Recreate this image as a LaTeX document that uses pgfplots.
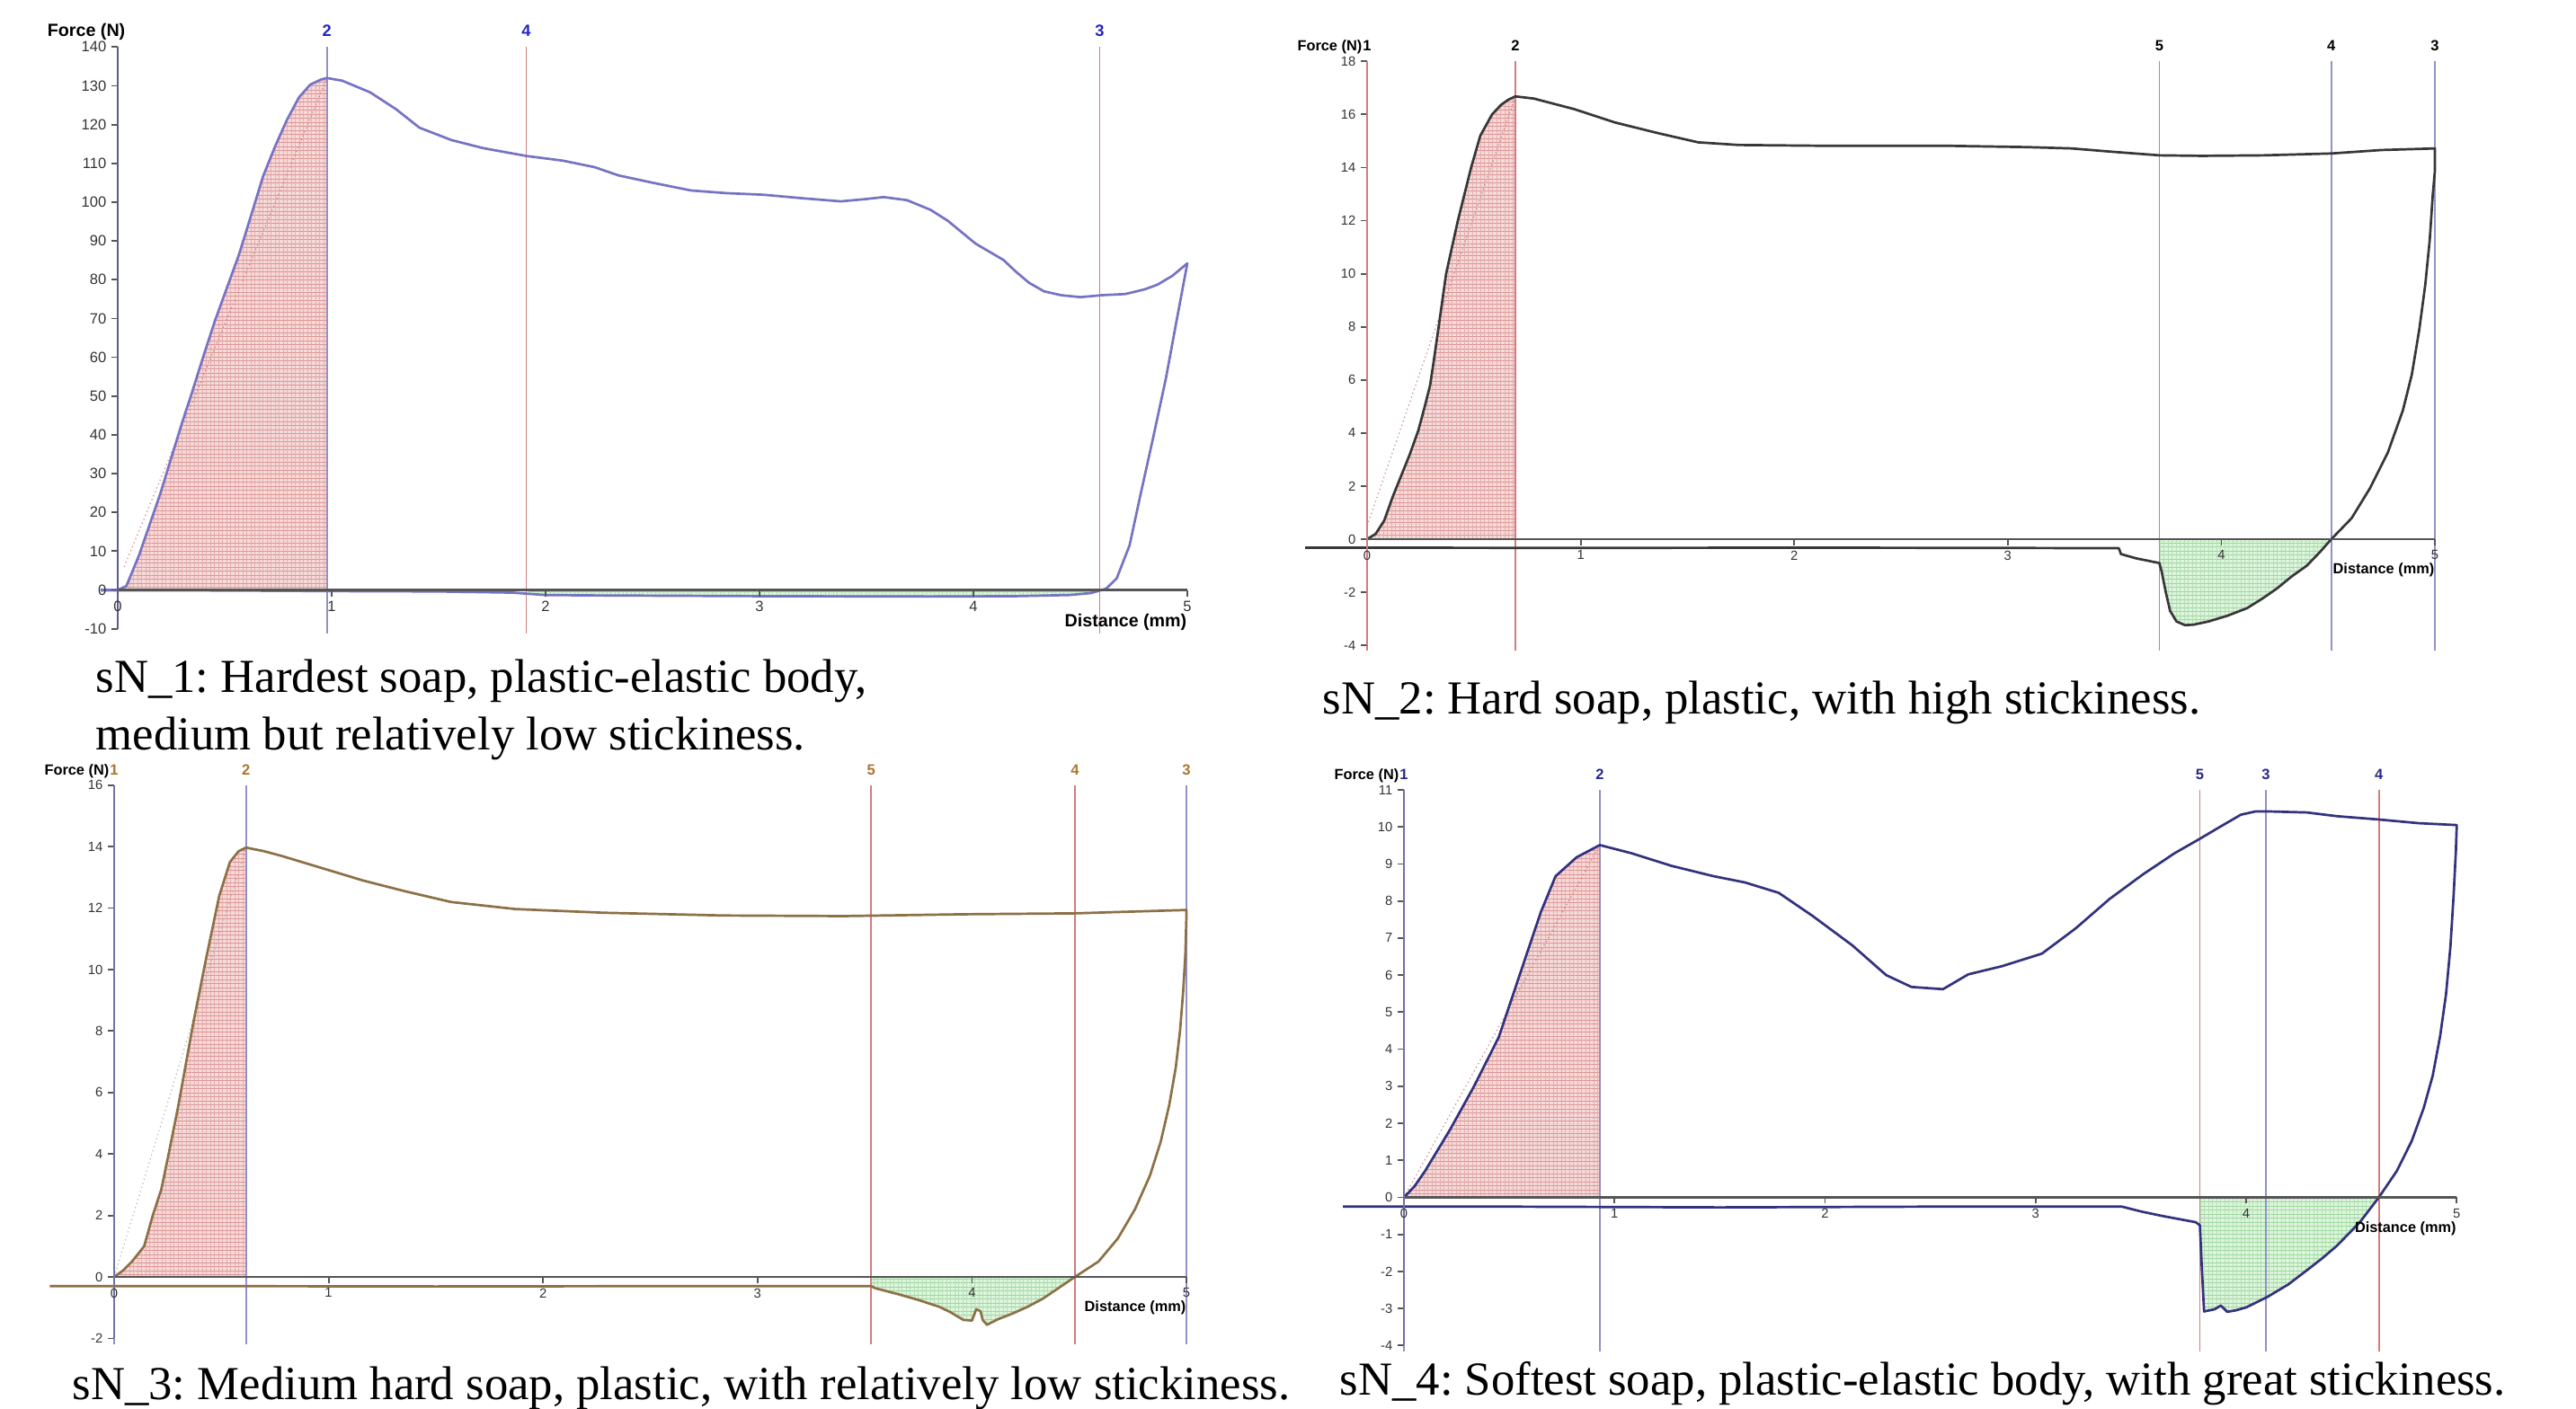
\documentclass[border=0pt]{standalone}
\usepackage{fontspec}
\setmainfont{Liberation Serif}
\newfontfamily\arial{Liberation Sans}
\usepackage{pgfplots}
\pgfplotsset{compat=1.18}
\usetikzlibrary{patterns.meta}
\frenchspacing

\definecolor{axgray}{RGB}{85,85,85}
\definecolor{lavc}{RGB}{118,115,195}
\definecolor{darkc}{RGB}{55,55,55}
\definecolor{olivec}{RGB}{140,112,70}
\definecolor{navyc}{RGB}{50,50,125}
\definecolor{mred}{RGB}{208,125,125}
\definecolor{mblue}{RGB}{145,145,200}
\definecolor{pinkbg}{RGB}{245,218,218}
\definecolor{pinkln}{RGB}{220,140,140}
\definecolor{greenbg}{RGB}{222,244,222}
\definecolor{greenln}{RGB}{150,212,150}
\definecolor{lab1}{RGB}{35,35,200}
\definecolor{lab3}{RGB}{175,115,45}
\definecolor{lab4}{RGB}{40,40,140}

\newcommand\tfa{\arial\fontsize{4.7}{5}\selectfont}
\newcommand\tfb{\arial\fontsize{4.2}{5}\selectfont}
\newcommand\lfa{\arial\bfseries\fontsize{5.6}{6}\selectfont}
\newcommand\lfb{\arial\bfseries\fontsize{4.65}{5}\selectfont}
\newcommand\mfa{\arial\bfseries\fontsize{5.2}{6}\selectfont}
\newcommand\mfb{\arial\bfseries\fontsize{4.7}{5}\selectfont}

\pgfplotsset{
  tex/.style={
    scale only axis, anchor=south west,
    xmin=0, xmax=5, xtick={0,1,2,3,4,5},
    axis x line=middle, axis y line=middle,
    axis on top, clip=false,
    hide obscured x ticks=false, hide obscured y ticks=false,
    x axis line style={-, draw=axgray, line width=0.28mm},
    y axis line style={-, line width=0.28mm},
    tick style={line width=0.18mm, draw=axgray},
    major tick length=0.7mm, tick align=outside,
    ticklabel style={text=black!80, inner sep=0.5mm},
    /pgf/number format/assume math mode=true,
  },
  mk/.style={line width=0.18mm},
  curve/.style={line width=0.27mm, mark=none, line join=round},
  secant/.style={line width=0.12mm, densely dotted, draw=mred},
  pinkarea/.style={draw=none, fill=pinkbg,
    postaction={pattern={Lines[angle=0,distance=0.45mm,line width=0.1mm]}, pattern color=pinkln},
    postaction={pattern={Lines[angle=90,distance=0.45mm,line width=0.05mm]}, pattern color=pinkln!70}},
  greenarea/.style={draw=none, fill=greenbg,
    postaction={pattern={Lines[angle=0,distance=0.45mm,line width=0.1mm]}, pattern color=greenln},
    postaction={pattern={Lines[angle=90,distance=0.45mm,line width=0.05mm]}, pattern color=greenln!70}},
}

% x, line colour, label, y bottom, y top
\newcommand\mk[5]{\addplot[mk, draw=#2] coordinates {(#1,#4) (#1,#5)}
  node[pos=1, anchor=base, inner sep=0pt, yshift=1.15mm, mklab] {#3};}

\begin{document}
\begin{tikzpicture}
\path[use as bounding box] (0,0) rectangle (286.6mm,156.7mm);

% ---------------- sN_1 ----------------
\tikzset{mklab/.style={font=\mfa, text=lab1}}
\begin{axis}[tex, at={(13.1mm,86.73mm)}, width=119.0mm, height=64.74mm,
  ymin=-10, ymax=140, ytick={-10,0,10,...,140},
  ticklabel style={font=\tfa}, y axis line style={draw=navyc!80}]
\addplot[pinkarea] coordinates {(0,0) (0.04,1) (0.1,9) (0.2,25) (0.3,43) (0.343,50.2) (0.4,60.2) (0.455,69.5) (0.511,78) (0.567,86.5) (0.623,96.5) (0.679,106.6) (0.735,114.3) (0.791,121.2) (0.847,127) (0.9,130.3) (0.95,131.6) (0.978,132)} \closedcycle;
\addplot[greenarea] coordinates {(1.92,0) (1.92,-1.0) (2.0,-1.3) (2.2,-1.4) (3.0,-1.6) (3.8,-1.7) (4.2,-1.6) (4.45,-1.3) (4.55,-0.8) (4.6,0)} \closedcycle;
\mk{0.978}{mblue}{2}{-11.2}{140}
\mk{1.91}{mred}{4}{-11.2}{140}
\mk{4.59}{mred}{3}{-11.2}{140}
\addplot[secant] coordinates {(0.03,6) (0.978,132)};
\addplot[curve, draw=lavc] coordinates {(-0.08,0) (0,0) (0.04,1) (0.1,9) (0.2,25) (0.3,43) (0.343,50.2) (0.4,60.2) (0.455,69.5) (0.511,78) (0.567,86.5) (0.623,96.5) (0.679,106.6) (0.735,114.3) (0.791,121.2) (0.847,127) (0.9,130.3) (0.95,131.6) (0.978,132) (1.05,131.3) (1.18,128.3) (1.3,124) (1.41,119.2) (1.56,116) (1.71,113.9) (1.91,111.9) (2.08,110.7) (2.23,109) (2.34,106.9) (2.5,105) (2.68,103) (2.85,102.3) (3.02,101.9) (3.2,101) (3.38,100.2) (3.5,100.8) (3.58,101.3) (3.69,100.5) (3.8,98) (3.88,95.2) (4.01,89.3) (4.14,85.1) (4.2,82) (4.26,79.2) (4.33,77) (4.41,76) (4.5,75.5) (4.6,76) (4.71,76.3) (4.8,77.5) (4.86,78.7) (4.93,81) (5.0,84.2) (4.95,69.5) (4.9,54.6) (4.84,39.2) (4.78,24.3) (4.73,11.5) (4.67,3) (4.62,0.3) (4.6,0) (4.55,-0.8) (4.45,-1.3) (4.2,-1.6) (3.8,-1.7) (3.0,-1.6) (2.2,-1.4) (2.0,-1.3) (1.92,-1.0) (1.85,-0.7) (1.5,-0.4) (1.0,-0.3) (0.5,-0.15) (0,-0.1) (-0.08,-0.1)};
\node[font=\lfa, text=black, anchor=base east, inner sep=0pt, xshift=0.9mm, yshift=1.2mm] at (axis cs:0,140) {Force (N)};
\node[font=\lfa, text=black, anchor=north east, inner sep=0pt, yshift=-2.6mm] at (axis cs:5,0) {Distance (mm)};
\end{axis}

% ---------------- sN_2 ----------------
\tikzset{mklab/.style={font=\mfb, text=black}}
\begin{axis}[tex, at={(152.1mm,84.88mm)}, width=118.8mm, height=64.99mm,
  ymin=-4, ymax=18, ytick={-4,-2,...,18},
  ticklabel style={font=\tfb}, y axis line style={draw=mred}]
\addplot[pinkarea] coordinates {(0,0) (0.04,0.2) (0.08,0.7) (0.12,1.6) (0.16,2.4) (0.2,3.2) (0.24,4.1) (0.27,5) (0.295,5.8) (0.31,6.6) (0.335,8) (0.37,10) (0.425,12) (0.487,14) (0.53,15.2) (0.585,16) (0.627,16.36) (0.66,16.55) (0.694,16.68)} \closedcycle;
\addplot[greenarea] coordinates {(3.71,0) (3.71,-0.9) (3.72,-1.2) (3.74,-2.0) (3.76,-2.7) (3.79,-3.1) (3.83,-3.24) (3.87,-3.22) (3.94,-3.1) (4.03,-2.88) (4.12,-2.6) (4.19,-2.25) (4.26,-1.86) (4.33,-1.4) (4.4,-1.0) (4.46,-0.5) (4.515,0)} \closedcycle;
\mk{0}{mred}{1}{-4.2}{18}
\mk{0.694}{mred}{2}{-4.2}{18}
\mk{3.71}{mblue}{5}{-4.2}{18}
\mk{4.515}{mblue}{4}{-4.2}{18}
\mk{5.0}{mblue}{3}{-4.2}{18}
\addplot[secant] coordinates {(0,0.5) (0.694,16.68)};
\addplot[curve, draw=darkc] coordinates {(0,0) (0.04,0.2) (0.08,0.7) (0.12,1.6) (0.16,2.4) (0.2,3.2) (0.24,4.1) (0.27,5) (0.295,5.8) (0.31,6.6) (0.335,8) (0.37,10) (0.425,12) (0.487,14) (0.53,15.2) (0.585,16) (0.627,16.36) (0.66,16.55) (0.694,16.68) (0.78,16.6) (0.97,16.2) (1.16,15.7) (1.36,15.3) (1.55,14.95) (1.74,14.85) (2.13,14.82) (2.71,14.82) (3.09,14.77) (3.3,14.72) (3.48,14.6) (3.71,14.46) (3.91,14.44) (4.2,14.46) (4.515,14.53) (4.75,14.66) (5.0,14.72) (5.0,13.87) (4.99,12.97) (4.976,11.28) (4.955,9.59) (4.927,7.9) (4.892,6.2) (4.85,4.85) (4.78,3.27) (4.696,1.92) (4.61,0.79) (4.515,0) (4.46,-0.5) (4.4,-1.0) (4.33,-1.4) (4.26,-1.86) (4.19,-2.25) (4.12,-2.6) (4.03,-2.88) (3.94,-3.1) (3.87,-3.22) (3.83,-3.24) (3.79,-3.1) (3.76,-2.7) (3.74,-2.0) (3.72,-1.2) (3.71,-0.9) (3.6,-0.72) (3.53,-0.56) (3.52,-0.34) (3.0,-0.33) (2.0,-0.32) (1.0,-0.33) (0,-0.32) (-0.29,-0.32)};
\node[font=\lfb, text=black, anchor=base east, inner sep=0pt, xshift=-0.5mm, yshift=1.15mm] at (axis cs:0,18) {Force (N)};
\node[font=\lfb, text=black, anchor=north east, inner sep=0pt, yshift=-2.6mm] at (axis cs:5,0) {Distance (mm)};
\end{axis}

% ---------------- sN_3 ----------------
\tikzset{mklab/.style={font=\mfb, text=lab3}}
\begin{axis}[tex, at={(12.7mm,7.76mm)}, width=119.3mm, height=61.56mm,
  ymin=-2, ymax=16, ytick={-2,0,...,16},
  ticklabel style={font=\tfb}, y axis line style={draw=mblue!80!black}]
\addplot[pinkarea] coordinates {(0,0) (0.04,0.2) (0.083,0.5) (0.14,1) (0.18,2) (0.22,2.85) (0.26,4.2) (0.3,5.6) (0.37,8.3) (0.43,10.4) (0.49,12.4) (0.54,13.5) (0.58,13.85) (0.615,13.97)} \closedcycle;
\addplot[greenarea] coordinates {(3.53,0) (3.53,-0.3) (3.55,-0.37) (3.66,-0.57) (3.75,-0.75) (3.85,-0.98) (3.9,-1.15) (3.96,-1.4) (4.0,-1.42) (4.02,-1.05) (4.04,-1.12) (4.05,-1.4) (4.07,-1.56) (4.12,-1.38) (4.19,-1.19) (4.26,-0.97) (4.33,-0.71) (4.4,-0.38) (4.48,0)} \closedcycle;
\mk{0}{mblue}{1}{-2.2}{16}
\mk{0.615}{mblue}{2}{-2.2}{16}
\mk{3.53}{mred}{5}{-2.2}{16}
\mk{4.48}{mred}{4}{-2.2}{16}
\mk{5.0}{mblue}{3}{-2.2}{16}
\addplot[secant, draw=gray!60] coordinates {(0,0) (0.615,13.97)};
\addplot[curve, draw=olivec] coordinates {(0,0) (0.04,0.2) (0.083,0.5) (0.14,1) (0.18,2) (0.22,2.85) (0.26,4.2) (0.3,5.6) (0.37,8.3) (0.43,10.4) (0.49,12.4) (0.54,13.5) (0.58,13.85) (0.615,13.97) (0.7,13.85) (0.78,13.7) (0.97,13.3) (1.16,12.9) (1.35,12.56) (1.57,12.2) (1.87,11.97) (2.28,11.85) (2.84,11.76) (3.4,11.74) (3.96,11.8) (4.48,11.83) (5.0,11.94) (5.0,11.74) (4.995,10.5) (4.985,9.3) (4.97,8.0) (4.95,6.8) (4.92,5.6) (4.88,4.4) (4.83,3.3) (4.76,2.2) (4.68,1.25) (4.59,0.5) (4.48,0) (4.4,-0.38) (4.33,-0.71) (4.26,-0.97) (4.19,-1.19) (4.12,-1.38) (4.07,-1.56) (4.05,-1.4) (4.04,-1.12) (4.02,-1.05) (4.0,-1.42) (3.96,-1.4) (3.9,-1.15) (3.85,-0.98) (3.75,-0.75) (3.66,-0.57) (3.55,-0.37) (3.53,-0.3) (2.5,-0.3) (1.5,-0.31) (0.5,-0.3) (0,-0.3) (-0.3,-0.3)};
\node[font=\lfb, text=black, anchor=base east, inner sep=0pt, xshift=-0.5mm, yshift=1.15mm] at (axis cs:0,16) {Force (N)};
\node[font=\lfb, text=black, anchor=north east, inner sep=0pt, yshift=-2.6mm] at (axis cs:5,0) {Distance (mm)};
\end{axis}

% ---------------- sN_4 ----------------
\tikzset{mklab/.style={font=\mfb, text=lab4}}
\begin{axis}[tex, at={(156.2mm,6.96mm)}, width=117.13mm, height=61.84mm,
  ymin=-4, ymax=11, ytick={-4,-3,...,11},
  ticklabel style={font=\tfb}, y axis line style={draw=navyc!70}]
\addplot[pinkarea] coordinates {(0,0) (0.05,0.3) (0.1,0.71) (0.22,1.84) (0.33,2.97) (0.45,4.32) (0.57,6.35) (0.65,7.7) (0.72,8.67) (0.82,9.18) (0.93,9.51)} \closedcycle;
\addplot[greenarea] coordinates {(3.78,0) (3.78,-0.75) (3.79,-2.0) (3.8,-3.08) (3.85,-3.02) (3.88,-2.92) (3.91,-3.09) (3.95,-3.05) (4.0,-2.97) (4.1,-2.69) (4.2,-2.35) (4.29,-1.96) (4.36,-1.65) (4.43,-1.31) (4.54,-0.67) (4.63,0)} \closedcycle;
\mk{0}{mblue}{1}{-4.15}{11}
\mk{0.93}{mblue}{2}{-4.15}{11}
\mk{3.78}{mred}{5}{-4.15}{11}
\mk{4.093}{mblue}{3}{-4.15}{11}
\mk{4.63}{mred}{4}{-4.15}{11}
\addplot[secant] coordinates {(0,0) (0.93,9.51)};
\addplot[curve, draw=navyc] coordinates {(0,0) (0.05,0.3) (0.1,0.71) (0.22,1.84) (0.33,2.97) (0.45,4.32) (0.57,6.35) (0.65,7.7) (0.72,8.67) (0.82,9.18) (0.93,9.51) (1.08,9.29) (1.27,8.95) (1.47,8.67) (1.62,8.5) (1.78,8.22) (1.94,7.6) (2.13,6.8) (2.29,6.0) (2.41,5.68) (2.56,5.62) (2.68,6.02) (2.84,6.24) (3.03,6.58) (3.19,7.26) (3.35,8.05) (3.51,8.72) (3.66,9.29) (3.78,9.68) (3.875,10.0) (3.975,10.33) (4.046,10.42) (4.093,10.42) (4.288,10.39) (4.43,10.29) (4.63,10.2) (4.82,10.1) (5.0,10.05) (4.996,9.36) (4.985,8.14) (4.97,6.77) (4.949,5.48) (4.921,4.35) (4.886,3.29) (4.843,2.41) (4.786,1.52) (4.715,0.71) (4.63,0) (4.54,-0.67) (4.43,-1.31) (4.36,-1.65) (4.29,-1.96) (4.2,-2.35) (4.1,-2.69) (4.0,-2.97) (3.95,-3.05) (3.91,-3.09) (3.88,-2.92) (3.85,-3.02) (3.8,-3.08) (3.79,-2.0) (3.78,-0.75) (3.76,-0.67) (3.6,-0.5) (3.5,-0.38) (3.41,-0.25) (2.5,-0.25) (1.5,-0.27) (0.5,-0.25) (0,-0.25) (-0.29,-0.25)};
\node[font=\lfb, text=black, anchor=base east, inner sep=0pt, xshift=-0.5mm, yshift=1.15mm] at (axis cs:0,11) {Force (N)};
\node[font=\lfb, text=black, anchor=north east, inner sep=0pt, yshift=-2.6mm] at (axis cs:5,0) {Distance (mm)};
\end{axis}

% ---------------- captions ----------------
\begin{scope}[every node/.style={anchor=base west, inner sep=0pt, font=\fontsize{15}{18}\selectfont}]
\node at (10.6mm,79.6mm) {sN\_1: Hardest soap, plastic-elastic body,};
\node at (10.6mm,73.2mm) {medium but relatively low stickiness.};
\node at (147.1mm,77.2mm) {sN\_2: Hard soap, plastic, with high stickiness.};
\node at (8.0mm,1.0mm) {sN\_3: Medium hard soap, plastic, with relatively low stickiness.};
\node at (149.0mm,1.5mm) {sN\_4: Softest soap, plastic-elastic body, with great stickiness.};
\end{scope}
\end{tikzpicture}
\end{document}
